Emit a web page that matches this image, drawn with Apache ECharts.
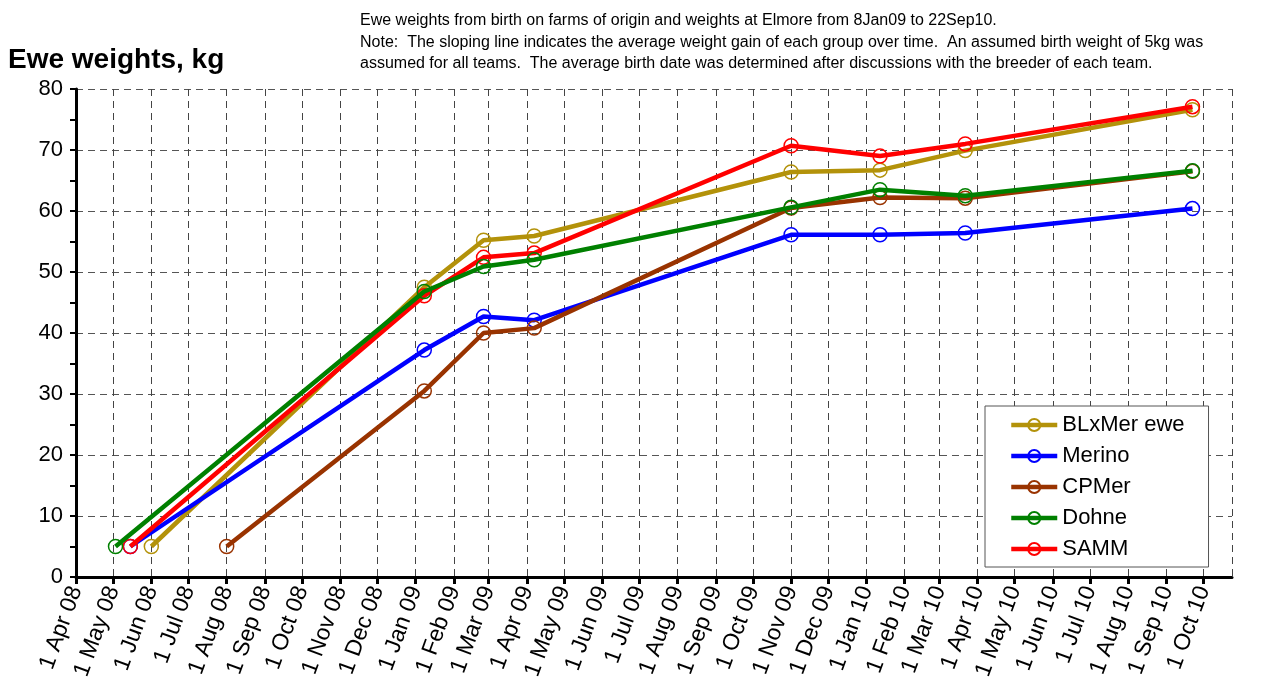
<!DOCTYPE html>
<html>
<head>
<meta charset="utf-8">
<title>Ewe weights</title>
<script src="https://cdn.jsdelivr.net/npm/echarts@6/dist/echarts.min.js"></script>
<style>
html, body { margin: 0; padding: 0; background: #fff; }
#chart { width: 1266px; height: 677px; }
</style>
</head>
<body>
<div id="chart"></div>
<script>
const teamNames = ['BLxMer ewe', 'Merino', 'CPMer', 'Dohne', 'SAMM'];
const teamColors = ['#B3920A', '#0000FF', '#993300', '#008000', '#FF0000'];
// assumed average birth date of each team, all at 5kg
const birthDates = ['2008-06-01', '2008-05-15', '2008-08-01', '2008-05-03', '2008-05-15'];
const birthWeight = 5;
// weighings at Elmore
const weighDates = ['2009-01-08', '2009-02-25', '2009-04-07', '2009-11-01', '2010-01-12', '2010-03-22', '2010-09-22'];
const blxmerWeights = [47.5, 55.2, 55.9, 66.4, 66.7, 69.9, 76.6];
const merinoWeights = [37.2, 42.7, 42.1, 56.1, 56.1, 56.4, 60.4];
const cpmerWeights  = [30.5, 40.0, 40.8, 60.5, 62.2, 62.1, 66.5];
const dohneWeights  = [46.8, 50.9, 52.0, 60.6, 63.5, 62.5, 66.6];
const sammWeights   = [46.1, 52.4, 53.1, 70.7, 69.0, 71.0, 77.1];
const monthNames = ['Jan', 'Feb', 'Mar', 'Apr', 'May', 'Jun', 'Jul', 'Aug', 'Sep', 'Oct', 'Nov', 'Dec'];

const noteText = 'Ewe weights from birth on farms of origin and weights at Elmore from 8Jan09 to 22Sep10.\n' +
	'Note:  The sloping line indicates the average weight gain of each group over time.  An assumed birth weight of 5kg was\n' +
	'assumed for all teams.  The average birth date was determined after discussions with the breeder of each team.';

const allWeights = [blxmerWeights, merinoWeights, cpmerWeights, dohneWeights, sammWeights];
const drawOrder = [1, 2, 3, 5, 4]; // green sits over red and brown

const chart = echarts.init(document.getElementById('chart'));

const series = teamNames.map((name, i) => ({
	name: name,
	type: 'line',
	z: drawOrder[i],
	data: [[birthDates[i], birthWeight]].concat(weighDates.map((d, k) => [d, allWeights[i][k]])),
	symbol: 'circle',
	symbolSize: 14,
	lineStyle: { color: teamColors[i], width: 4.5 },
	itemStyle: { color: 'rgba(255,255,255,0)', borderColor: teamColors[i], borderWidth: 1.5 },
	emphasis: { disabled: true }
}));

const option = {
	animation: false,
	textStyle: { fontFamily: 'Liberation Sans, Arial, sans-serif', color: '#000' },
	title: [
		{
			text: 'Ewe weights, kg',
			left: 3, top: 41,
			textStyle: { fontSize: 28, fontWeight: 'bold', color: '#000' }
		},
		{
			text: noteText,
			left: 355, top: 5,
			textStyle: { fontSize: 16, fontWeight: 'normal', lineHeight: 21.5, color: '#000' }
		}
	],
	grid: { left: 76, right: 34, top: 89, bottom: 100, outerBoundsMode: 'none' },
	legend: {
		orient: 'vertical',
		left: 985, top: 406,
		data: teamNames,
		itemWidth: 46, itemHeight: 15, itemGap: 9,
		padding: [8, 24, 7, 24],
		backgroundColor: '#fff',
		borderColor: '#555', borderWidth: 1,
		lineStyle: { width: 4.5 },
		textStyle: { fontSize: 22, color: '#000' }
	},
	xAxis: {
		type: 'time',
		min: new Date(2008, 3, 1).getTime(),
		max: new Date(2010, 9, 24).getTime(),
		splitNumber: 31,
		minInterval: 28 * 864e5,
		maxInterval: 31 * 864e5,
		axisLine: { lineStyle: { color: '#000', width: 3 } },
		axisTick: { show: true, length: 7, lineStyle: { color: '#000', width: 3 } },
		axisLabel: {
			rotate: 70, fontSize: 23, color: '#000', margin: 10,
			interval: 0, hideOverlap: false, showMinLabel: true,
			formatter: (v) => {
				const d = new Date(v);
				return '1 ' + monthNames[d.getMonth()] + ' ' + String(d.getFullYear()).slice(2);
			}
		},
		splitLine: { show: true, lineStyle: { color: '#444', type: [7, 5], width: 1 } }
	},
	yAxis: {
		type: 'value',
		min: 0, max: 80, interval: 10,
		axisLine: { show: true, lineStyle: { color: '#000', width: 3 } },
		axisTick: { show: true, length: 6, lineStyle: { color: '#000', width: 2 } },
		minorTick: { show: true, splitNumber: 2, length: 6, lineStyle: { color: '#000', width: 2 } },
		axisLabel: { fontSize: 22, color: '#000', margin: 13 },
		splitLine: { lineStyle: { color: '#555', type: [7, 5], width: 1 } }
	},
	series: series
};

chart.setOption(option);
</script>
</body>
</html>
